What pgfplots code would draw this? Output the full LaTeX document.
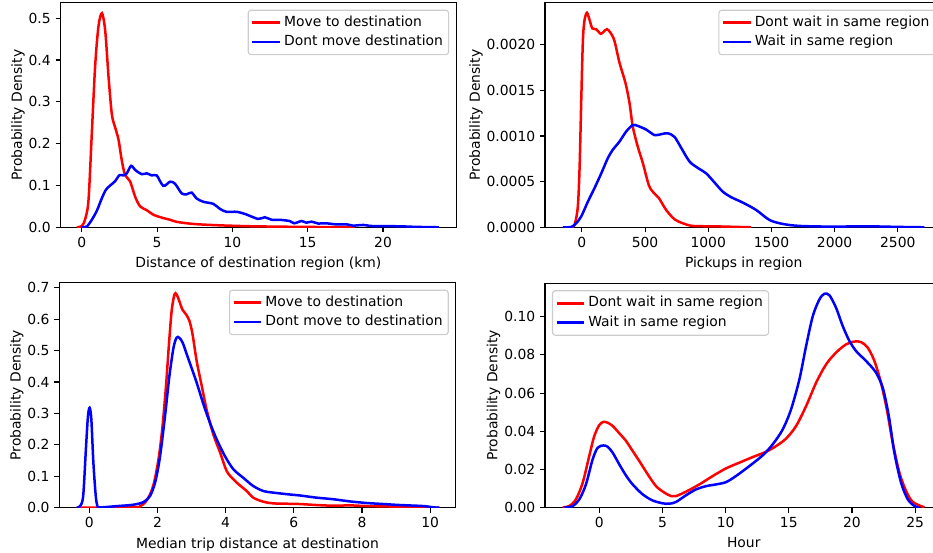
\documentclass[border=0pt]{standalone}
\usepackage{fontspec}
\setmainfont{DejaVu Sans}
\usepackage{pgfplots}
\pgfplotsset{compat=1.18}

\pgfplotsset{
  kde/.style={
    scale only axis,
    axis line style={line width=0.8pt},
    tick style={line width=0.8pt, black},
    tick align=outside,
    major tick length=3.5pt,
    tick pos=left,
    ymin=0,
    font=\fontsize{10}{12}\selectfont,
    tick label style={font=\fontsize{10}{12}\selectfont},
    /pgf/number format/assume math mode=true,
    /pgf/number format/1000 sep={},
    scaled ticks=false,
    ylabel={Probability Density},
    ylabel shift=-4pt,
    legend cell align=left,
    legend style={draw=black!20, line width=0.8pt, rounded corners=2pt,
      fill=white, font=\fontsize{10}{12}\selectfont, inner sep=2pt,
      nodes={inner sep=2pt, text height=7.6pt, text depth=2.4pt}},
    legend image code/.code={\draw[#1] (0pt,0pt) -- (20pt,0pt);},
    every axis plot/.append style={line width=1.8pt, smooth, mark=none},
  },
  legNE/.style={legend style={at={(1,1)}, anchor=north east, xshift=-5pt, yshift=-5pt}},
  legNW/.style={legend style={at={(0,1)}, anchor=north west, xshift=5pt, yshift=-5pt}},
}

\begin{document}
\begin{tikzpicture}
\useasboundingbox (0pt,0pt) rectangle (671.76pt,398.16pt);
\clip (0pt,0pt) rectangle (671.76pt,398.16pt);

% top left: distance of destination region
\begin{axis}[kde, legNE,
  at={(43.56pt,234.5pt)}, anchor=south west,
  width=284.8pt, height=161.7pt,
  xmin=-1.42, xmax=24.85, ymax=0.537,
  xtick={0,5,10,15,20},
  ytick={0,0.1,0.2,0.3,0.4,0.5},
  yticklabel style={/pgf/number format/fixed, /pgf/number format/fixed zerofill, /pgf/number format/precision=1},
  xlabel={Distance of destination region (km)}]
\addplot[red] coordinates {
(-0.35,0) (0,0.003) (0.22,0.02) (0.44,0.065) (0.66,0.225) (0.88,0.385)
(1.1,0.48) (1.33,0.512) (1.55,0.47) (1.77,0.36) (1.99,0.27) (2.2,0.24)
(2.43,0.21) (2.65,0.16) (2.87,0.125) (3.2,0.11) (3.54,0.073) (3.87,0.05)
(4.31,0.041) (4.75,0.03) (5.41,0.022) (5.86,0.018) (6.3,0.013) (7.4,0.008)
(8.95,0.005) (11.2,0.0025) (14.5,0.001) (17.8,0.0002) (18.1,0)
};
\addlegendentry{Move to destination}
\addplot[blue] coordinates {
(0,0) (0.33,0.002) (0.66,0.018) (1.0,0.04) (1.33,0.07) (1.6,0.09)
(1.88,0.1) (2.2,0.11) (2.5,0.125) (2.76,0.124) (2.98,0.129) (3.27,0.147)
(3.54,0.137) (3.98,0.127) (4.31,0.129) (4.64,0.124) (4.97,0.124) (5.41,0.099)
(5.86,0.109) (6.19,0.104) (6.63,0.081) (6.96,0.079) (7.29,0.083) (7.62,0.069)
(8.07,0.061) (8.73,0.056) (9.17,0.044) (9.61,0.037) (10.3,0.037) (10.9,0.031)
(11.7,0.02) (12.15,0.024) (12.6,0.018) (13.1,0.018) (13.8,0.015) (14.1,0.0096)
(14.6,0.015) (14.9,0.011) (15.25,0.0135) (15.7,0.009) (16.2,0.0096) (16.9,0.007)
(17.6,0.007) (18.0,0.004) (18.7,0.0056) (19.3,0.003) (21.1,0.0024) (22.2,0.001)
(23.7,0)
};
\addlegendentry{Dont move destination}
\end{axis}

% top right: pickups in region
\begin{axis}[kde, legNE,
  at={(392.4pt,234.5pt)}, anchor=south west,
  width=286.2pt, height=161.7pt,
  xmin=-292, xmax=2854, ymax=0.00246,
  xtick={0,500,1000,1500,2000,2500},
  ytick={0,0.0005,0.001,0.0015,0.002},
  yticklabel style={/pgf/number format/fixed, /pgf/number format/fixed zerofill, /pgf/number format/precision=4},
  xlabel={Pickups in region}]
\addplot[red] coordinates {
(-84,0) (-58,0.000026) (-32,0.00023) (-18,0.00067) (-5,0.0014) (8,0.00205)
(21,0.00227) (40,0.00235) (61,0.00227) (82,0.00218) (113,0.00217) (148,0.00212)
(171,0.00214) (198,0.00217) (227,0.00213) (258,0.00204) (298,0.0018) (345,0.00158)
(377,0.00136) (403,0.0011) (443,0.00088) (483,0.0007) (530,0.00046) (567,0.00038)
(609,0.00032) (667,0.00019) (733,0.000088) (799,0.000044) (878,0.000015)
(1063,0.00001) (1340,0)
};
\addlegendentry{Dont wait in same region}
\addplot[blue] coordinates {
(-150,0) (-84,0.000004) (-45,0.000044) (-5,0.00012) (47,0.00028) (100,0.00043)
(153,0.00059) (206,0.00076) (245,0.00085) (298,0.00094) (351,0.00105) (403,0.00112)
(443,0.00111) (509,0.00107) (575,0.00101) (628,0.00102) (680,0.00103) (733,0.00099)
(786,0.00087) (852,0.00072) (918,0.00065) (984,0.00059) (1050,0.00049) (1115,0.00039)
(1181,0.00033) (1274,0.00027) (1379,0.00019) (1485,0.00008) (1590,0.000037)
(1722,0.000015) (1986,0.000007) (2144,0.00001) (2302,0.00001) (2513,0.000004)
(2711,0)
};
\addlegendentry{Wait in same region}
\end{axis}

% bottom left: median trip distance
\begin{axis}[kde, legNE,
  at={(42.7pt,32.6pt)}, anchor=south west,
  width=285.4pt, height=162pt,
  xmin=-0.88, xmax=10.75, ymax=0.716,
  xtick={0,2,4,6,8,10},
  ytick={0,0.1,0.2,0.3,0.4,0.5,0.6,0.7},
  yticklabel style={/pgf/number format/fixed, /pgf/number format/fixed zerofill, /pgf/number format/precision=1},
  xlabel={Median trip distance at destination}]
\addplot[red] coordinates {
(-0.37,0) (1.29,0.001) (1.49,0.005) (1.63,0.016) (1.78,0.042) (1.9,0.08)
(2.03,0.154) (2.14,0.25) (2.25,0.387) (2.34,0.525) (2.42,0.63) (2.5,0.679)
(2.56,0.679) (2.64,0.658) (2.73,0.631) (2.84,0.615) (2.94,0.594) (3.03,0.551)
(3.15,0.467) (3.3,0.387) (3.44,0.313) (3.64,0.233) (3.84,0.175) (4.03,0.117)
(4.23,0.09) (4.42,0.071) (4.62,0.053) (4.81,0.032) (5.11,0.019) (5.4,0.0138)
(5.79,0.0127) (6.18,0.0117) (6.67,0.0085) (7.16,0.0064) (7.65,0.0074) (8.14,0.0053)
(9.12,0.0032) (9.9,0.001) (10.27,0)
};
\addlegendentry{Move to destination}
\addplot[blue] coordinates {
(-0.37,0) (-0.27,0.005) (-0.18,0.037) (-0.1,0.186) (-0.04,0.29) (0.01,0.318)
(0.06,0.281) (0.12,0.143) (0.19,0.037) (0.24,0.005) (0.31,0.001) (0.8,0.005)
(1.29,0.0095) (1.59,0.018) (1.78,0.037) (1.93,0.08) (2.07,0.159) (2.22,0.29)
(2.35,0.419) (2.47,0.509) (2.56,0.541) (2.64,0.541) (2.74,0.525) (2.86,0.488)
(3.0,0.445) (3.15,0.398) (3.35,0.329) (3.54,0.27) (3.74,0.217) (3.98,0.164)
(4.23,0.122) (4.52,0.095) (4.81,0.069) (5.11,0.053) (5.4,0.048) (5.89,0.042)
(6.18,0.039) (6.67,0.032) (7.16,0.027) (7.65,0.02) (8.14,0.015) (8.63,0.0117)
(9.12,0.0085) (9.8,0.0053) (10.1,0.001) (10.27,0)
};
\addlegendentry{Dont move to destination}
\end{axis}

% bottom right: hour
\begin{axis}[kde, legNW,
  at={(392.4pt,32.6pt)}, anchor=south west,
  width=286.2pt, height=161.6pt,
  xmin=-4.3, xmax=27.17, ymax=0.1175,
  xtick={0,5,10,15,20,25},
  ytick={0,0.02,0.04,0.06,0.08,0.1},
  yticklabel style={/pgf/number format/fixed, /pgf/number format/fixed zerofill, /pgf/number format/precision=2},
  xlabel={Hour}]
\addplot[red] coordinates {
(-2.9,0.0002) (-2.38,0.0009) (-1.85,0.0044) (-1.32,0.013) (-0.8,0.027) (-0.4,0.0375)
(0,0.0433) (0.32,0.0449) (0.66,0.0445) (1.06,0.0428) (1.58,0.039) (2.11,0.035)
(2.64,0.0297) (3.17,0.0244) (3.83,0.0175) (4.49,0.0113) (5.15,0.0079) (5.68,0.0061)
(6.07,0.0061) (6.86,0.0084) (7.92,0.0122) (8.98,0.0166) (10.03,0.0206) (11.09,0.0236)
(12.14,0.0265) (13.2,0.0293) (14.0,0.0323) (14.8,0.0363) (15.58,0.0428) (16.37,0.0532)
(17.16,0.0654) (17.95,0.075) (18.74,0.0812) (19.53,0.0855) (20.2,0.087) (20.72,0.0867)
(21.25,0.0838) (21.78,0.0768) (22.3,0.0654) (22.76,0.0515) (23.23,0.034) (23.76,0.0183)
(24.29,0.0087) (24.82,0.003) (25.74,0.0002)
};
\addlegendentry{Dont wait in same region}
\addplot[blue] coordinates {
(-2.77,0) (-2.11,0.0009) (-1.58,0.0044) (-1.06,0.0122) (-0.53,0.0253) (-0.13,0.0314)
(0.32,0.0326) (0.66,0.0319) (1.06,0.0288) (1.58,0.0227) (2.11,0.0169) (2.64,0.0122)
(3.43,0.007) (4.22,0.0038) (5.02,0.0023) (5.54,0.0021) (6.07,0.003) (6.86,0.0065)
(7.66,0.0096) (8.45,0.0113) (9.24,0.0122) (10.03,0.0134) (10.82,0.0166) (11.88,0.0218)
(12.93,0.0274) (13.73,0.0332) (14.52,0.041) (15.18,0.0515) (15.84,0.0672) (16.37,0.0846)
(16.9,0.1003) (17.42,0.109) (17.82,0.112) (18.22,0.1112) (18.74,0.1047) (19.27,0.0951)
(19.8,0.0873) (20.33,0.082) (20.86,0.0785) (21.38,0.075) (21.91,0.0707) (22.44,0.0628)
(22.92,0.048) (23.36,0.0288) (23.89,0.0131) (24.42,0.0044) (24.95,0.0009) (25.35,0)
};
\addlegendentry{Wait in same region}
\end{axis}
\end{tikzpicture}
\end{document}
